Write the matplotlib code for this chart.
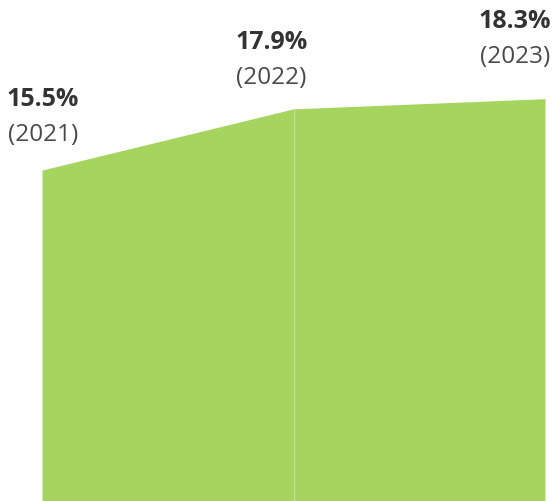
import matplotlib
matplotlib.use("Agg")
import matplotlib.pyplot as plt

years = ["2021", "2022", "2023"]
values = [15.5, 17.9, 18.3]
x = [0, 1, 2]

# label offsets in pixels (dx, dy of year-line baseline above point)
label_dx = [1, -22, -30]
label_dy = [29, 25, 36]

plt.rcParams['font.family'] = ['Open Sans', 'DejaVu Sans']

fig = plt.figure(figsize=(5.52, 5.01), dpi=100)
ax = fig.add_axes([42/552, 0, 503/552, 1])
ax.set_xlim(0, 2)
ax.set_ylim(2.52, 22.17)
ax.axis('off')

fill_color = '#a5d55e'
ax.fill_between(x, values, 0, color=fill_color, linewidth=0)
ax.plot([x[1], x[1]], [0, values[1]], color='#bde38c', linewidth=1.0)

for xi, v, yr, dx, dy in zip(x, values, years, label_dx, label_dy):
    ax.annotate(f"({yr})", xy=(xi, v), xytext=(dx, dy), textcoords='offset pixels',
                ha='center', va='baseline', fontsize=17.5, color='#4a4a4a',
                annotation_clip=False)
    ax.annotate(f"{v:.1f}%", xy=(xi, v), xytext=(dx, dy + 35), textcoords='offset pixels',
                ha='center', va='baseline', fontsize=18, fontweight='bold',
                color='#333333', annotation_clip=False)

fig.savefig("out.png", dpi=100)
